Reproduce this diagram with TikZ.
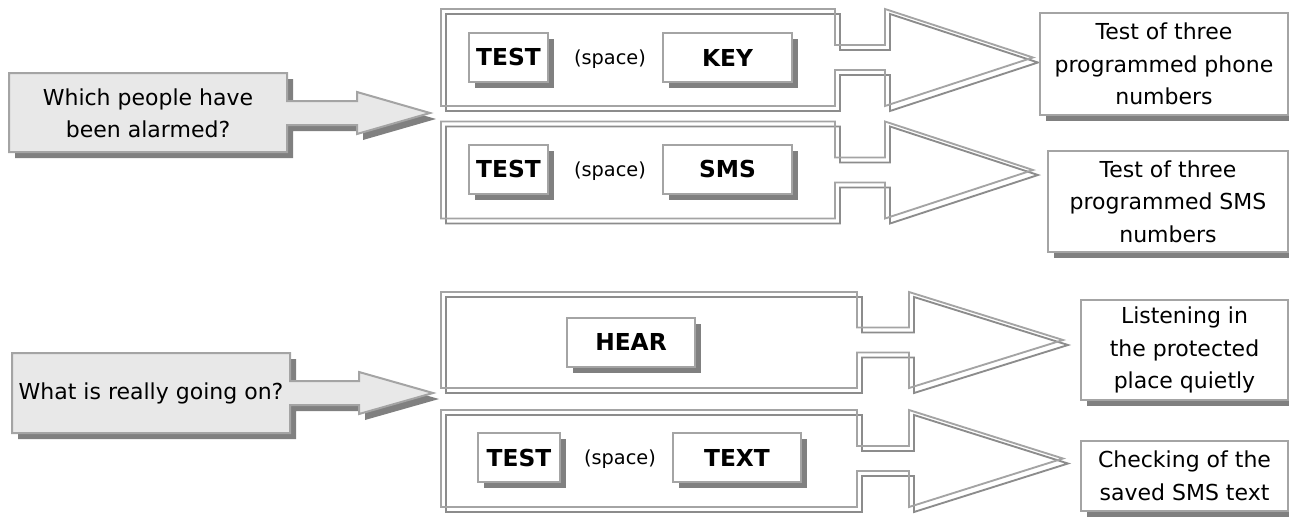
\documentclass[tikz,border=0pt]{standalone}
\usepackage{fontspec}
\setmainfont{DejaVu Sans}
\usetikzlibrary{shadows}
\definecolor{calloutfill}{HTML}{E8E8E8}
\definecolor{rimgray}{HTML}{A4A4A4}
\definecolor{shadegray}{HTML}{808080}
\definecolor{backline}{HTML}{8C8C8C}
\tikzset{
  callout/.style={draw=rimgray, fill=calloutfill, line width=1.5pt},
  calloutshade/.style={fill=shadegray},
  frontline/.style={draw=rimgray, line width=1.4pt},
  rearline/.style={draw=backline, line width=1.4pt},
  boxshade/.style={drop shadow={shadow xshift=4.5pt, shadow yshift=-4.5pt, fill=shadegray, opacity=1}},
  keybox/.style={draw=rimgray, fill=white, line width=1.5pt, inner sep=0pt,
    minimum height=36.75pt, font=\fontsize{17.5}{21}\selectfont\bfseries, boxshade},
  resultbox/.style={draw=rimgray, fill=white, line width=1.5pt, inner sep=0pt, align=center,
    font=\fontsize{16.5}{24.5}\selectfont, boxshade},
  asktext/.style={align=center, font=\fontsize{16.5}{24}\selectfont},
  spacetext/.style={font=\fontsize{14.5}{17}\selectfont}
}
\begin{document}
\begin{tikzpicture}[x=0.75pt,y=-0.75pt]
\useasboundingbox (0,0) rectangle (1289,518);
% questions on the left
\fill[calloutshade, shift={(6,6)}] (9,73) -- (287,73) -- (287,101) -- (357,101) -- (357,92) -- (430,113) -- (357,134) -- (357,125) -- (287,125) -- (287,152) -- (9,152) -- cycle;
\draw[callout] (9,73) -- (287,73) -- (287,101) -- (357,101) -- (357,92) -- (430,113) -- (357,134) -- (357,125) -- (287,125) -- (287,152) -- (9,152) -- cycle;
\fill[calloutshade, shift={(6,6)}] (12,353) -- (290,353) -- (290,381) -- (359,381) -- (359,372) -- (433,393) -- (359,414) -- (359,405) -- (290,405) -- (290,433) -- (12,433) -- cycle;
\draw[callout] (12,353) -- (290,353) -- (290,381) -- (359,381) -- (359,372) -- (433,393) -- (359,414) -- (359,405) -- (290,405) -- (290,433) -- (12,433) -- cycle;
\node[asktext] (ask1) at (148,113) {Which people have\\been alarmed?};
\node[asktext] (ask2) at (151,393) {What is really going on?};
% command panels
\draw[rearline, shift={(5,5)}] (441,9) -- (835,9) -- (835,45) -- (885,45) -- (885,9) -- (1033,57.5) -- (885,106) -- (885,70) -- (835,70) -- (835,106) -- (441,106) -- cycle;
\draw[frontline] (441,9) -- (835,9) -- (835,45) -- (885,45) -- (885,9) -- (1033,57.5) -- (885,106) -- (885,70) -- (835,70) -- (835,106) -- (441,106) -- cycle;
\draw[rearline, shift={(5,5)}] (441,121.5) -- (835,121.5) -- (835,157.5) -- (885,157.5) -- (885,121.5) -- (1033,170) -- (885,218.5) -- (885,182.5) -- (835,182.5) -- (835,218.5) -- (441,218.5) -- cycle;
\draw[frontline] (441,121.5) -- (835,121.5) -- (835,157.5) -- (885,157.5) -- (885,121.5) -- (1033,170) -- (885,218.5) -- (885,182.5) -- (835,182.5) -- (835,218.5) -- (441,218.5) -- cycle;
\draw[rearline, shift={(5,5)}] (441,292) -- (857,292) -- (857,327.5) -- (909,327.5) -- (909,292) -- (1063,340) -- (909,388) -- (909,352.5) -- (857,352.5) -- (857,388) -- (441,388) -- cycle;
\draw[frontline] (441,292) -- (857,292) -- (857,327.5) -- (909,327.5) -- (909,292) -- (1063,340) -- (909,388) -- (909,352.5) -- (857,352.5) -- (857,388) -- (441,388) -- cycle;
\draw[rearline, shift={(5,5)}] (441,410) -- (857,410) -- (857,446) -- (909,446) -- (909,410) -- (1063,458.5) -- (909,507) -- (909,471) -- (857,471) -- (857,507) -- (441,507) -- cycle;
\draw[frontline] (441,410) -- (857,410) -- (857,446) -- (909,446) -- (909,410) -- (1063,458.5) -- (909,507) -- (909,471) -- (857,471) -- (857,507) -- (441,507) -- cycle;
% keys inside the panels
\node[keybox, minimum width=59.25pt] (test1) at (508.5,57.5) {TEST};
\node[spacetext] (space1) at (610,59) {(space)};
\node[keybox, minimum width=96.75pt] (key1) at (727.5,57.5) {KEY};
\node[keybox, minimum width=59.25pt] (test2) at (508.5,169.5) {TEST};
\node[spacetext] (space2) at (610,171) {(space)};
\node[keybox, minimum width=96.75pt] (sms2) at (727.5,169.5) {SMS};
\node[keybox, minimum width=96pt] (hear3) at (631,342) {HEAR};
\node[keybox, minimum width=61.5pt] (test4) at (519,457.5) {TEST};
\node[spacetext] (space4) at (620,459) {(space)};
\node[keybox, minimum width=96pt] (text4) at (737,457.5) {TEXT};
% results on the right
\node[resultbox, minimum width=186pt, minimum height=76.5pt] (res1) at (1164,64) {Test of three\\programmed phone\\numbers};
\node[resultbox, minimum width=180pt, minimum height=75.75pt] (res2) at (1168,201.5) {Test of three\\programmed SMS\\numbers};
\node[resultbox, minimum width=155.25pt, minimum height=75pt] (res3) at (1184.5,350) {Listening in\\the protected\\place quietly};
\node[resultbox, minimum width=155.25pt, minimum height=52.5pt] (res4) at (1184.5,476) {Checking of the\\saved SMS text};
\end{tikzpicture}
\end{document}
